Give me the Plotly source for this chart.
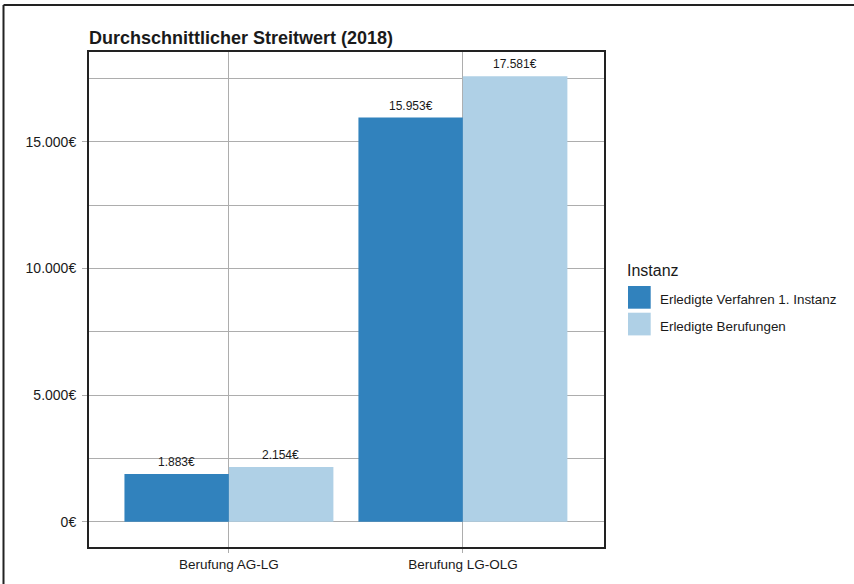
import plotly.graph_objects as go

# ---- data ----
categories = ["Berufung AG-LG", "Berufung LG-OLG"]
series_names = ["Erledigte Verfahren 1. Instanz", "Erledigte Berufungen"]
values_first = [1883, 15953]
values_appeal = [2154, 17581]
y_tick_values = [0, 5000, 10000, 15000]
title_text = "Durchschnittlicher Streitwert (2018)"
legend_title = "Instanz"

colors = ["#3182bd", "#afd0e6"]
FONT = "Liberation Sans, Arial, sans-serif"
TXT = "#1a1a1a"
GRID = "#adadad"


def euro(v):
    return f"{v:,}".replace(",", ".") + "€"


W, H = 854, 584
L, R, T, B = 89, 250, 52, 37
PW, PH = W - L - R, H - T - B


def px_x(px):
    return (px - L) / PW


def px_y(py):
    return (H - B - py) / PH


fig = go.Figure()
series = [values_first, values_appeal]
for name, vals, col in zip(series_names, series, colors):
    fig.add_trace(go.Bar(
        x=categories, y=vals, name=name, marker=dict(color=col, line=dict(width=0)),
        showlegend=False, hoverinfo="x+y"))

# value labels above bars
offsets = [-52, 52]
annotations = []
for vals, off in zip(series, offsets):
    for c, v in zip(categories, vals):
        annotations.append(dict(
            x=c, y=v, xref="x", yref="y", text=euro(v), showarrow=False,
            xshift=off, yshift=12, yanchor="middle", xanchor="center",
            font=dict(family=FONT, size=12, color=TXT)))

# manual legend
annotations.append(dict(
    x=px_x(625), y=px_y(270.7), xref="paper", yref="paper", text=legend_title,
    showarrow=False, xanchor="left", yanchor="middle",
    font=dict(family=FONT, size=16, color=TXT)))
shapes = []
sw_tops = [286, 312.7]
for name, col, top in zip(series_names, colors, sw_tops):
    shapes.append(dict(type="rect", xref="paper", yref="paper",
                       x0=px_x(628), x1=px_x(650.7), y0=px_y(top + 22.7), y1=px_y(top),
                       fillcolor=col, line=dict(width=0)))
    annotations.append(dict(
        x=px_x(657.5), y=px_y(top + 13.5), xref="paper", yref="paper", text=name,
        showarrow=False, xanchor="left", yanchor="middle",
        font=dict(family=FONT, size=13.4, color=TXT)))

# outer frame (top and left edges)
shapes.append(dict(type="line", xref="paper", yref="paper",
                   x0=px_x(3.5), x1=px_x(860), y0=px_y(5), y1=px_y(5),
                   line=dict(color="#222", width=2)))
shapes.append(dict(type="line", xref="paper", yref="paper",
                   x0=px_x(3.5), x1=px_x(3.5), y0=px_y(5), y1=px_y(590),
                   line=dict(color="#222", width=2)))

fig.update_layout(
    width=W, height=H,
    margin=dict(l=L, r=R, t=T, b=B, pad=0),
    paper_bgcolor="white", plot_bgcolor="white",
    barmode="group", bargap=0.107, bargroupgap=0,
    font=dict(family=FONT, color=TXT),
    title=dict(text="<b>" + title_text + "</b>", xref="paper", x=0, xanchor="left",
               yref="container", y=(H - 38) / H, yanchor="middle",
               font=dict(family=FONT, size=18, color=TXT)),
    annotations=annotations, shapes=shapes, showlegend=False,
)
fig.update_xaxes(
    range=[-0.598, 1.603], showgrid=True, gridcolor=GRID, gridwidth=1,
    showline=True, linecolor="#222", linewidth=2, mirror=True,
    ticks="outside", ticklen=4, tickcolor=GRID,
    tickfont=dict(family=FONT, size=13.5, color=TXT), zeroline=False)
fig.update_yaxes(
    range=[-1000, 18540], tickvals=y_tick_values, ticktext=[euro(v) for v in y_tick_values],
    showgrid=True, gridcolor=GRID, gridwidth=1,
    minor=dict(dtick=2500, tick0=0, showgrid=True, gridcolor=GRID, gridwidth=1, ticks=""),
    showline=True, linecolor="#222", linewidth=2, mirror=True,
    ticks="outside", ticklen=5, tickcolor=GRID, ticklabelstandoff=3,
    tickfont=dict(family=FONT, size=14, color=TXT), zeroline=False)

fig.write_html("out.html")
